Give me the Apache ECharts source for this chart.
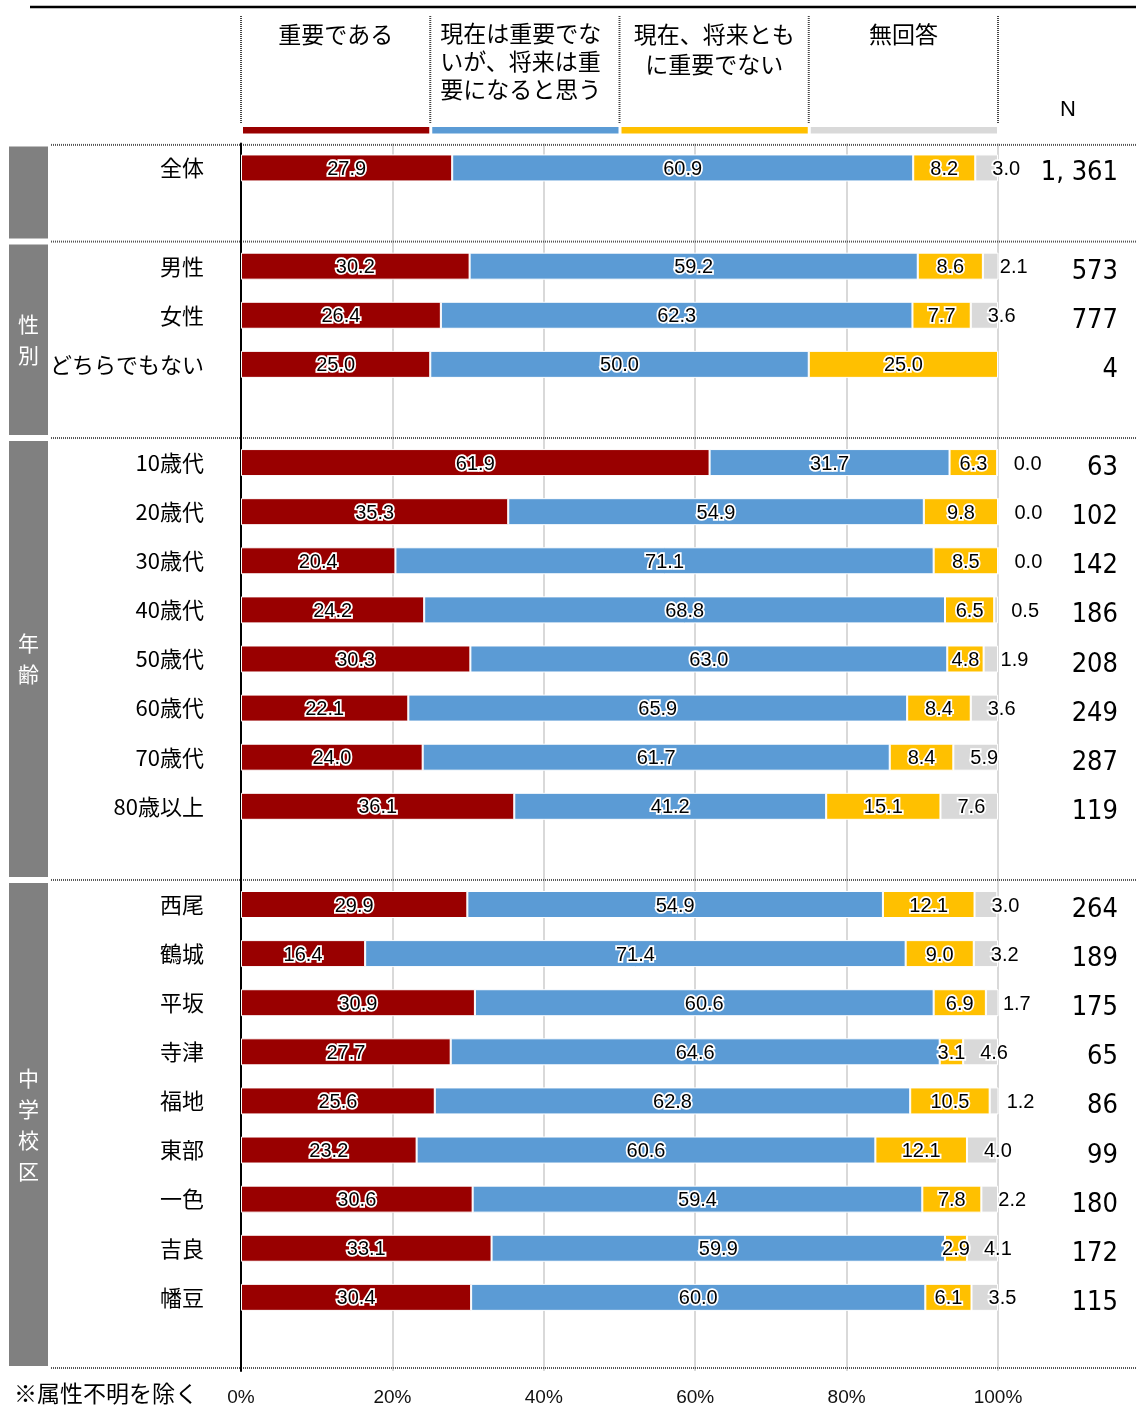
<!DOCTYPE html>
<html><head><meta charset="utf-8">
<script src="https://cdn.jsdelivr.net/npm/echarts@6/dist/echarts.min.js"></script>
<style>html,body{margin:0;padding:0;background:#fff}#c{width:1136px;height:1407px}</style>
</head><body><div id="c"></div>
<script>
// ---- data ----
const categories = ['全体','',
  '男性','女性','どちらでもない','',
  '10歳代','20歳代','30歳代','40歳代','50歳代','60歳代','70歳代','80歳以上','',
  '西尾','鶴城','平坂','寺津','福地','東部','一色','吉良','幡豆',''];
const important       = [27.9,null, 30.2,26.4,25.0,null, 61.9,35.3,20.4,24.2,30.3,22.1,24.0,36.1,null, 29.9,16.4,30.9,27.7,25.6,23.2,30.6,33.1,30.4,null];
const futureImportant = [60.9,null, 59.2,62.3,50.0,null, 31.7,54.9,71.1,68.8,63.0,65.9,61.7,41.2,null, 54.9,71.4,60.6,64.6,62.8,60.6,59.4,59.9,60.0,null];
const notImportant    = [8.2,null, 8.6,7.7,25.0,null, 6.3,9.8,8.5,6.5,4.8,8.4,8.4,15.1,null, 12.1,9.0,6.9,3.1,10.5,12.1,7.8,2.9,6.1,null];
const noAnswer        = [3.0,null, 2.1,3.6,null,null, 0.0,0.0,0.0,0.5,1.9,3.6,5.9,7.6,null, 3.0,3.2,1.7,4.6,1.2,4.0,2.2,4.1,3.5,null];
const nLabels = ['1, 361','', '573','777','4','', '63','102','142','186','208','249','287','119','', '264','189','175','65','86','99','180','172','115',''];
const seriesNames = ['重要である','現在は重要でないが、将来は重要になると思う','現在、将来ともに重要でない','無回答'];
const headerLines = [['重要である'],['現在は重要でな','いが、将来は重','要になると思う'],['現在、将来とも','に重要でない'],['無回答']];
const groups = [{name:'',from:0,to:1},{name:'性別',from:2,to:5},{name:'年齢',from:6,to:14},{name:'中学校区',from:15,to:24}];
const xTicks = [0,20,40,60,80,100];
const colors = ['#990000','#5b9bd5','#ffc000','#d9d9d9'];
const footnote = '※属性不明を除く';

const numFont = '"Liberation Sans Narrow","DejaVu Sans Condensed","Roboto Condensed","Liberation Sans",sans-serif';
const jpFont = '"Noto Sans CJK JP",sans-serif';

const chart = echarts.init(document.getElementById('c'));
const lbl = {
  show:true, position:'inside', color:'#000', fontSize:20, fontFamily:'"Liberation Sans",Arial,sans-serif',
  textBorderColor:'#fff', textBorderWidth:3.5, offset:[0,1.5],
  formatter: p => (p.value==null ? '' : Number(p.value).toFixed(1))
};
const dataSets = [important, futureImportant, notImportant, noAnswer];
const option = {
  animation:false,
  grid:{left:241, right:138, top:143.4, height:1228.3, containLabel:false},
  xAxis:{type:'value', min:0, max:100, interval:20,
    axisLine:{show:false}, axisTick:{show:false},
    splitLine:{show:true, lineStyle:{color:'#d9d9d9', width:2}},
    axisLabel:{formatter:'{value}%', fontSize:19, color:'#111', margin:17, fontFamily:'"Liberation Sans",Arial,sans-serif'}},
  yAxis:[
    {type:'category', data:categories, inverse:true,
      axisLine:{show:true, lineStyle:{color:'#000', width:2}}, axisTick:{show:false},
      axisLabel:{fontSize:22, color:'#000', margin:37, fontFamily:jpFont}},
    {type:'category', data:nLabels, inverse:true, position:'right',
      axisLine:{show:false}, axisTick:{show:false},
      axisLabel:{margin:120, align:'right',
        formatter: v => v ? '{n|' + v + '}' : '',
        rich:{n:{fontSize:27, color:'#000', fontFamily:numFont, padding:[11,0,0,0]}}}}
  ],
  series: dataSets.map((d,i)=>({
    name:seriesNames[i], type:'bar', stack:'s', data:d, barWidth:27, yAxisIndex:0,
    itemStyle:{color:colors[i], borderColor:'#fff', borderWidth:1},
    label: i===3 ? Object.assign({}, lbl, {position:'insideLeft', distance:17}) : lbl
  }))
};
chart.setOption(option);

const Y = i => chart.convertToPixel({yAxisIndex:0}, i);
const X = v => chart.convertToPixel({xAxisIndex:0}, v);
const pitch = Y(1) - Y(0);
const edge = i => Y(i) - pitch/2;
const g = [];
// top rule
g.push({type:'line', shape:{x1:30,y1:7,x2:1136,y2:7}, style:{stroke:'#000', lineWidth:2.5}});
// header columns
for (let k=0;k<=4;k++){
  const xx = X(k*25);
  g.push({type:'line', shape:{x1:xx,y1:16,x2:xx,y2:123}, style:{stroke:'#444', lineWidth:2, lineDash:[1,1]}});
}
for (let k=0;k<4;k++){
  const x0 = X(k*25), x1 = X((k+1)*25);
  g.push({type:'rect', shape:{x:x0+2, y:127, width:x1-x0-3, height:6.5}, style:{fill:colors[k]}});
  const lines = headerLines[k];
  if (k===1){
    g.push({type:'text', x:x0+10, y:19, style:{text:lines.join('\n'), font:'23px '+jpFont, fill:'#000', lineHeight:28, textAlign:'left', textVerticalAlign:'top'}});
  } else {
    g.push({type:'text', x:(x0+x1)/2, y:19, style:{text:lines.join('\n'), font:'23px '+jpFont, fill:'#000', lineHeight:30, textAlign:'center', textVerticalAlign:'top'}});
  }
}
g.push({type:'text', x:1068, y:110, style:{text:'N', font:'22px "Liberation Sans",Arial,sans-serif', fill:'#000', textAlign:'center', textVerticalAlign:'middle'}});
// separators
[0,2,6,15,25].forEach(i=>{
  const yy = edge(i) + (i===0?1.5:(i===25?-3:0));
  g.push({type:'line', shape:{x1:51,y1:yy,x2:1136,y2:yy}, style:{stroke:'#555', lineWidth:2, lineDash:[1,1]}});
});
// group bands
groups.forEach(gr=>{
  const y0 = edge(gr.from)+3, y1 = edge(gr.to+1)-(gr.to===24?5:3);
  g.push({type:'rect', shape:{x:9, y:y0, width:39, height:y1-y0}, style:{fill:'#808080'}});
  if (gr.name){
    g.push({type:'text', x:28.5, y:(y0+y1)/2, style:{text:gr.name.split('').join('\n'), font:'21px '+jpFont, fill:'#fff', lineHeight:31, textAlign:'center', textVerticalAlign:'middle'}});
  }
});
g.push({type:'text', x:14, y:1393, style:{text:footnote, font:'23px '+jpFont, fill:'#000', textAlign:'left', textVerticalAlign:'middle'}});
chart.setOption({graphic:{elements:g}});
</script></body></html>
